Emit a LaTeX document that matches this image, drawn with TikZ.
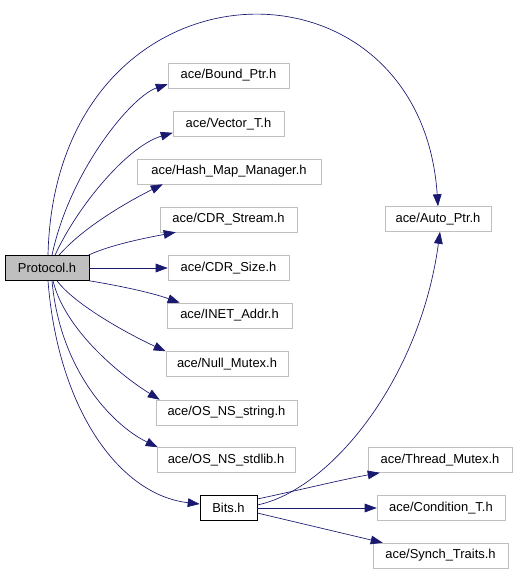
\documentclass[tikz,border=0pt]{standalone}
\usepackage{fontspec}
\setmainfont{Liberation Sans}
\usetikzlibrary{arrows.meta,calc}
\definecolor{edgeblue}{HTML}{191970}
\definecolor{boxgray}{HTML}{BFBFBF}
\tikzset{
  incbox/.style={draw=boxgray,fill=white,minimum height=18.75pt,inner sep=0pt,font=\fontsize{9.7pt}{11pt}\selectfont},
  rootbox/.style={incbox,draw=black,fill=boxgray},
  mainbox/.style={incbox,draw=black},
  dep/.style={-{Triangle[length=9pt,width=6.5pt]},edgeblue,line width=0.5pt}
}
\begin{document}
\begin{tikzpicture}[x=0.75pt,y=-0.75pt]
  \useasboundingbox (0,0) rectangle (517,572);

  % left column
  \node[rootbox,minimum width=63pt] (proto) at (47,268) {Protocol.h};

  % middle column
  \node[incbox,minimum width=90.75pt] (bound) at (228.5,75.5) {ace/Bound\_Ptr.h};
  \node[incbox,minimum width=83.25pt] (vector) at (228.5,124) {ace/Vector\_T.h};
  \node[incbox,minimum width=138pt] (hash) at (229,171.5) {ace/Hash\_Map\_Manager.h};
  \node[incbox,minimum width=102.75pt] (cdrstream) at (228.5,219.5) {ace/CDR\_Stream.h};
  \node[incbox,minimum width=90.75pt] (cdrsize) at (228.5,268) {ace/CDR\_Size.h};
  \node[incbox,minimum width=93.75pt] (inet) at (229.5,315.5) {ace/INET\_Addr.h};
  \node[incbox,minimum width=91.5pt] (nullmutex) at (227,364) {ace/Null\_Mutex.h};
  \node[incbox,minimum width=105.75pt] (osstring) at (226.5,412.5) {ace/OS\_NS\_string.h};
  \node[incbox,minimum width=103.5pt] (osstdlib) at (226,460) {ace/OS\_NS\_stdlib.h};
  \node[mainbox,minimum width=42.75pt] (bits) at (228.5,508) {Bits.h};

  % right column
  \node[incbox,minimum width=79.5pt] (autoptr) at (438,219) {ace/Auto\_Ptr.h};
  \node[incbox,minimum width=108pt] (thread) at (440,460) {ace/Thread\_Mutex.h};
  \node[incbox,minimum width=96pt] (cond) at (441,508) {ace/Condition\_T.h};
  \node[incbox,minimum width=101.25pt] (synch) at (440.5,555.5) {ace/Synch\_Traits.h};

  % Protocol.h includes
  \draw[dep] ($(proto.north)+(1,0)$) .. controls (55,-50) and (420,-60) .. (autoptr.north);
  \draw[dep] ($(proto.north)+(5,0)$) .. controls (70,170) and (132,96) .. ($(bound.south west)+(0,-4)$);
  \draw[dep] ($(proto.north)+(8,0)$) .. controls (78,205) and (128,146) .. ($(vector.south west)+(0,-4)$);
  \draw[dep] ($(proto.north)+(12,0)$) .. controls (85,225) and (135,198) .. ($(hash.south west)+(26,0)$);
  \draw[dep] ($(proto.north east)+(-1,0)$) .. controls (110,245) and (145,238) .. ($(cdrstream.south west)+(16,0)$);
  \draw[dep] (proto.east) -- (cdrsize.west);
  \draw[dep] (proto.south east) .. controls (115,285) and (150,292) .. ($(inet.north west)+(13,0)$);
  \draw[dep] ($(proto.south)+(10,0)$) .. controls (75,305) and (130,335) .. (nullmutex.north west);
  \draw[dep] ($(proto.south)+(6,0)$) .. controls (65,330) and (120,375) .. ($(osstring.north west)+(4,0)$);
  \draw[dep] ($(proto.south)+(5,0)$) .. controls (60,370) and (112,425) .. ($(osstdlib.north west)+(1,0)$);
  \draw[dep] ($(proto.south)+(1,0)$) .. controls (58,410) and (120,495) .. ($(bits.west)+(0,-4)$);

  % Bits.h includes
  \draw[dep] ($(bits.east)+(0,-3)$) .. controls (330,490) and (420,380) .. ($(autoptr.south)+(2,0)$);
  \draw[dep] ($(bits.east)+(0,-9)$) .. controls (300,490) and (340,480) .. ($(thread.south west)+(12,0)$);
  \draw[dep] (bits.east) -- (cond.west);
  \draw[dep] ($(bits.east)+(0,5)$) -- ($(synch.north west)+(10,0)$);
\end{tikzpicture}
\end{document}
